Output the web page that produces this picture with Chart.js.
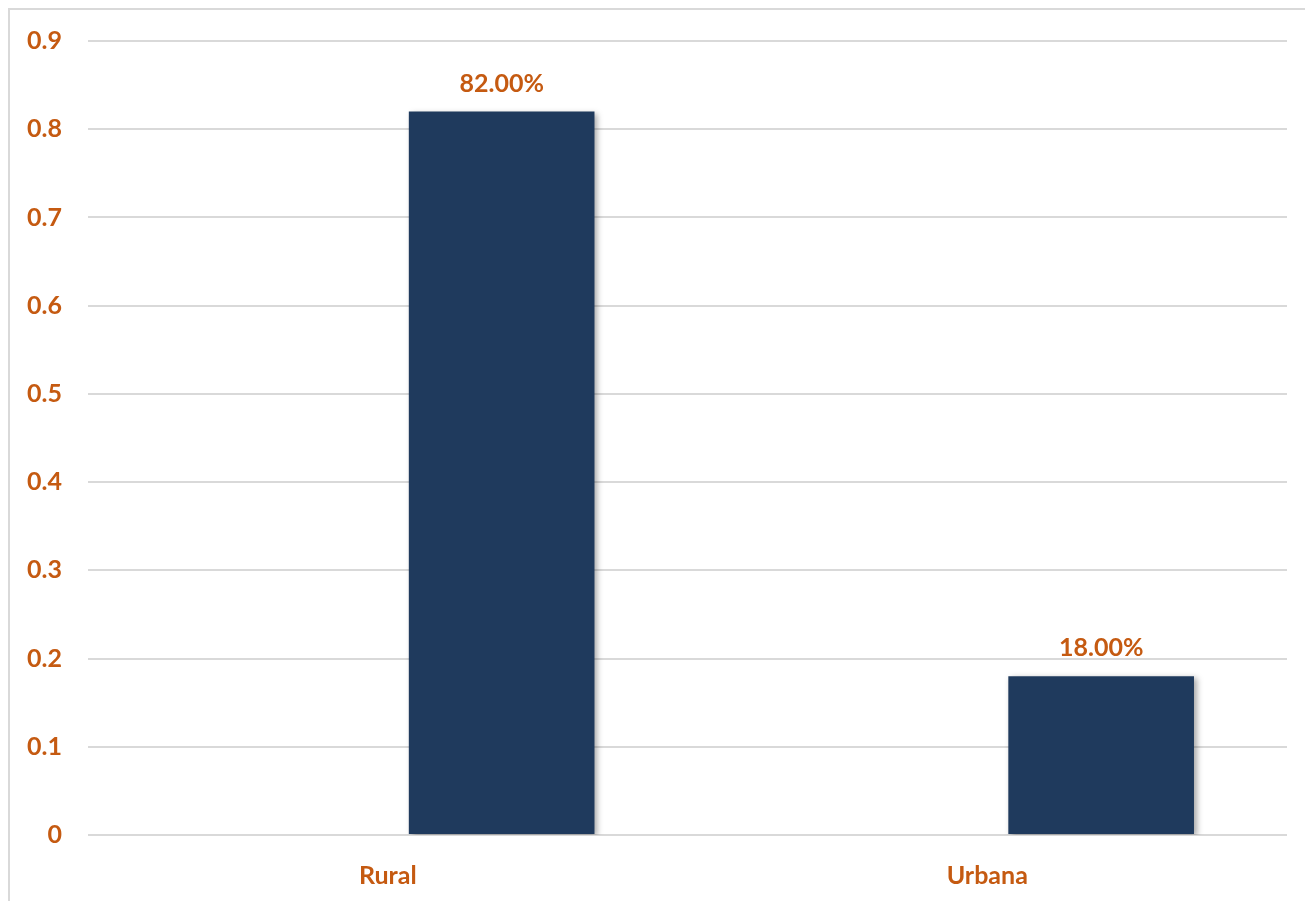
<!DOCTYPE html>
<html>
<head>
<meta charset="utf-8">
<title>Rural / Urbana</title>
<script src="https://cdn.jsdelivr.net/npm/chart.js@4.4.1/dist/chart.umd.min.js"></script>
<style>
  html, body { margin: 0; padding: 0; background: #ffffff; }
  canvas { display: block; }
</style>
</head>
<body>
<canvas id="chart" width="1305" height="901"></canvas>
<script>
// categories and values
const categories = ['Rural', 'Urbana'];
const blankSeries = [null, null];
const shareValues = [0.82, 0.18];
const valueLabels = ['82.00%', '18.00%'];
const yTickLabels = ['0', '0.1', '0.2', '0.3', '0.4', '0.5', '0.6', '0.7', '0.8', '0.9'];

const orange = '#C55A11';
const navy = '#1F3A5D';
const gridGray = '#D9D9D9';
const labelFont = { family: 'Lato, "Open Sans", sans-serif', size: 25, weight: 'bold' };

// outer frame of the chart box
const framePlugin = {
    id: 'frame',
    beforeDraw(chart) {
        const ctx = chart.ctx;
        ctx.save();
        ctx.strokeStyle = gridGray;
        ctx.lineWidth = 2;
        ctx.strokeRect(9, 9, chart.width + 20, chart.height + 20);
        ctx.restore();
    }
};

// soft drop shadow behind the bars
const shadowPlugin = {
    id: 'barShadow',
    beforeDatasetsDraw(chart) {
        const ctx = chart.ctx;
        ctx.save();
        ctx.shadowColor = 'rgba(0,0,0,0.35)';
        ctx.shadowBlur = 6;
        ctx.shadowOffsetX = 3;
        ctx.shadowOffsetY = 2;
    },
    afterDatasetsDraw(chart) {
        chart.ctx.restore();
    }
};

// value labels above each bar
const valueLabelPlugin = {
    id: 'valueLabels',
    afterDatasetsDraw(chart) {
        const ctx = chart.ctx;
        const meta = chart.getDatasetMeta(1);
        ctx.save();
        ctx.fillStyle = orange;
        ctx.font = 'bold 25px Lato, "Open Sans", sans-serif';
        ctx.textAlign = 'center';
        ctx.textBaseline = 'middle';
        meta.data.forEach(function(bar, i) {
            ctx.fillText(valueLabels[i], bar.x, bar.y - 28);
        });
        ctx.restore();
    }
};

const data = {
    labels: categories,
    datasets: [
        {
            label: '',
            data: blankSeries,
            backgroundColor: navy
        },
        {
            label: 'Porcentaje',
            data: shareValues,
            backgroundColor: navy
        }
    ]
};

const config = {
    type: 'bar',
    data: data,
    options: {
        responsive: false,
        animation: false,
        categoryPercentage: 0.76,
        barPercentage: 0.815,
        layout: {
            padding: { top: 39, right: 18, bottom: 0, left: 0 }
        },
        plugins: {
            legend: { display: false },
            tooltip: { enabled: false }
        },
        scales: {
            x: {
                grid: { display: false, drawTicks: false },
                border: { display: false },
                ticks: {
                    color: orange,
                    font: labelFont,
                    padding: 26
                },
                afterFit(scale) { scale.height = 66; }
            },
            y: {
                min: 0,
                max: 0.9,
                grid: {
                    color: gridGray,
                    lineWidth: 2,
                    drawTicks: false
                },
                border: { display: false },
                ticks: {
                    stepSize: 0.1,
                    color: orange,
                    font: labelFont,
                    padding: 26,
                    callback: function(value, index) { return yTickLabels[index]; }
                },
                afterFit(scale) { scale.width = 88; }
            }
        }
    },
    plugins: [framePlugin, shadowPlugin, valueLabelPlugin]
};

new Chart(document.getElementById('chart').getContext('2d'), config);
</script>
</body>
</html>
